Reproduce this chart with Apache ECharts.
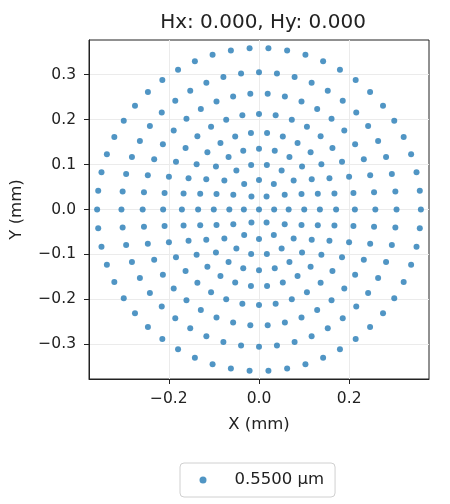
<!DOCTYPE html>
<html>
<head>
<meta charset="utf-8">
<script src="https://cdn.jsdelivr.net/npm/echarts@6/dist/echarts.min.js"></script>
<style>html,body{margin:0;padding:0;background:#fff;}#c{width:450px;height:504px;}</style>
</head>
<body>
<div id="c"></div>
<script>
// Hexapolar spot pattern: ring radii (mm), points per ring
const ringRadius = [0, 0.0336, 0.0658, 0.1003, 0.135, 0.171, 0.2126, 0.258, 0.305, 0.359];
const ringCount = [1, 6, 12, 18, 24, 30, 36, 42, 48, 54];
const xTicks = [-0.2, 0.0, 0.2];
const yTicks = [-0.3, -0.2, -0.1, 0.0, 0.1, 0.2, 0.3];
const axisLimit = 0.377;
const seriesName = '0.5500 µm';
const titleText = 'Hx: 0.000, Hy: 0.000';

const points = [];
ringRadius.forEach((r, i) => {
  const n = ringCount[i];
  for (let k = 0; k < n; k++) {
    const a = 2 * Math.PI * k / n;
    points.push([r * Math.cos(a), r * Math.sin(a)]);
  }
});

const fmt = v => (v < -1e-9 ? '\u2212' : '') + Math.abs(v).toFixed(1);
const font = 'DejaVu Sans';

const chart = echarts.init(document.getElementById('c'), null, {renderer: 'canvas'});
chart.setOption({
  animation: false,
  backgroundColor: '#fff',
  textStyle: {fontFamily: font},
  title: {
    text: titleText, left: 258, top: 8, textAlign: 'center',
    textStyle: {fontFamily: font, fontSize: 20, fontWeight: 'normal', color: '#222'}
  },
  legend: {
    data: [{name: seriesName, icon: 'circle'}],
    left: 180, top: 463,
    itemWidth: 7, itemHeight: 7, itemGap: 0,
    padding: [8, 11, 8, 19.5],
    borderColor: '#d0d0d0', borderWidth: 1, borderRadius: 4,
    textStyle: {fontFamily: font, fontSize: 16.5, lineHeight: 18, color: '#222', padding: [0, 0, 0, 23]}
  },
  grid: {left: 88, right: 21, top: 40, bottom: 125, show: true, borderColor: '#222', borderWidth: 1},
  xAxis: {
    type: 'value', min: -axisLimit, max: axisLimit,
    name: 'X (mm)', nameLocation: 'middle', nameGap: 37,
    nameTextStyle: {fontFamily: font, fontSize: 16.5, color: '#222'},
    axisLine: {show: true, onZero: false, lineStyle: {color: '#222', width: 1}},
    axisTick: {show: true, inside: false, length: 5, customValues: xTicks, lineStyle: {color: '#222'}},
    axisLabel: {customValues: xTicks, formatter: fmt, fontFamily: font, fontSize: 15.5, color: '#222', margin: 12},
    splitLine: {show: true, lineStyle: {color: '#ebebeb', width: 1}}
  },
  yAxis: {
    type: 'value', min: -axisLimit, max: axisLimit,
    name: 'Y (mm)', nameLocation: 'middle', nameGap: 64, nameRotate: 90,
    nameTextStyle: {fontFamily: font, fontSize: 16.5, color: '#222'},
    axisLine: {show: true, onZero: false, lineStyle: {color: '#222', width: 1}},
    axisTick: {show: true, inside: false, length: 5, customValues: yTicks, lineStyle: {color: '#222'}},
    axisLabel: {customValues: yTicks, formatter: fmt, fontFamily: font, fontSize: 15.5, color: '#222', margin: 13},
    splitLine: {show: true, lineStyle: {color: '#ebebeb', width: 1}}
  },
  series: [{
    name: seriesName, type: 'scatter', data: points,
    symbol: 'circle', symbolSize: 6,
    itemStyle: {color: '#1f77b4', opacity: 0.78}
  }]
});
</script>
</body>
</html>
